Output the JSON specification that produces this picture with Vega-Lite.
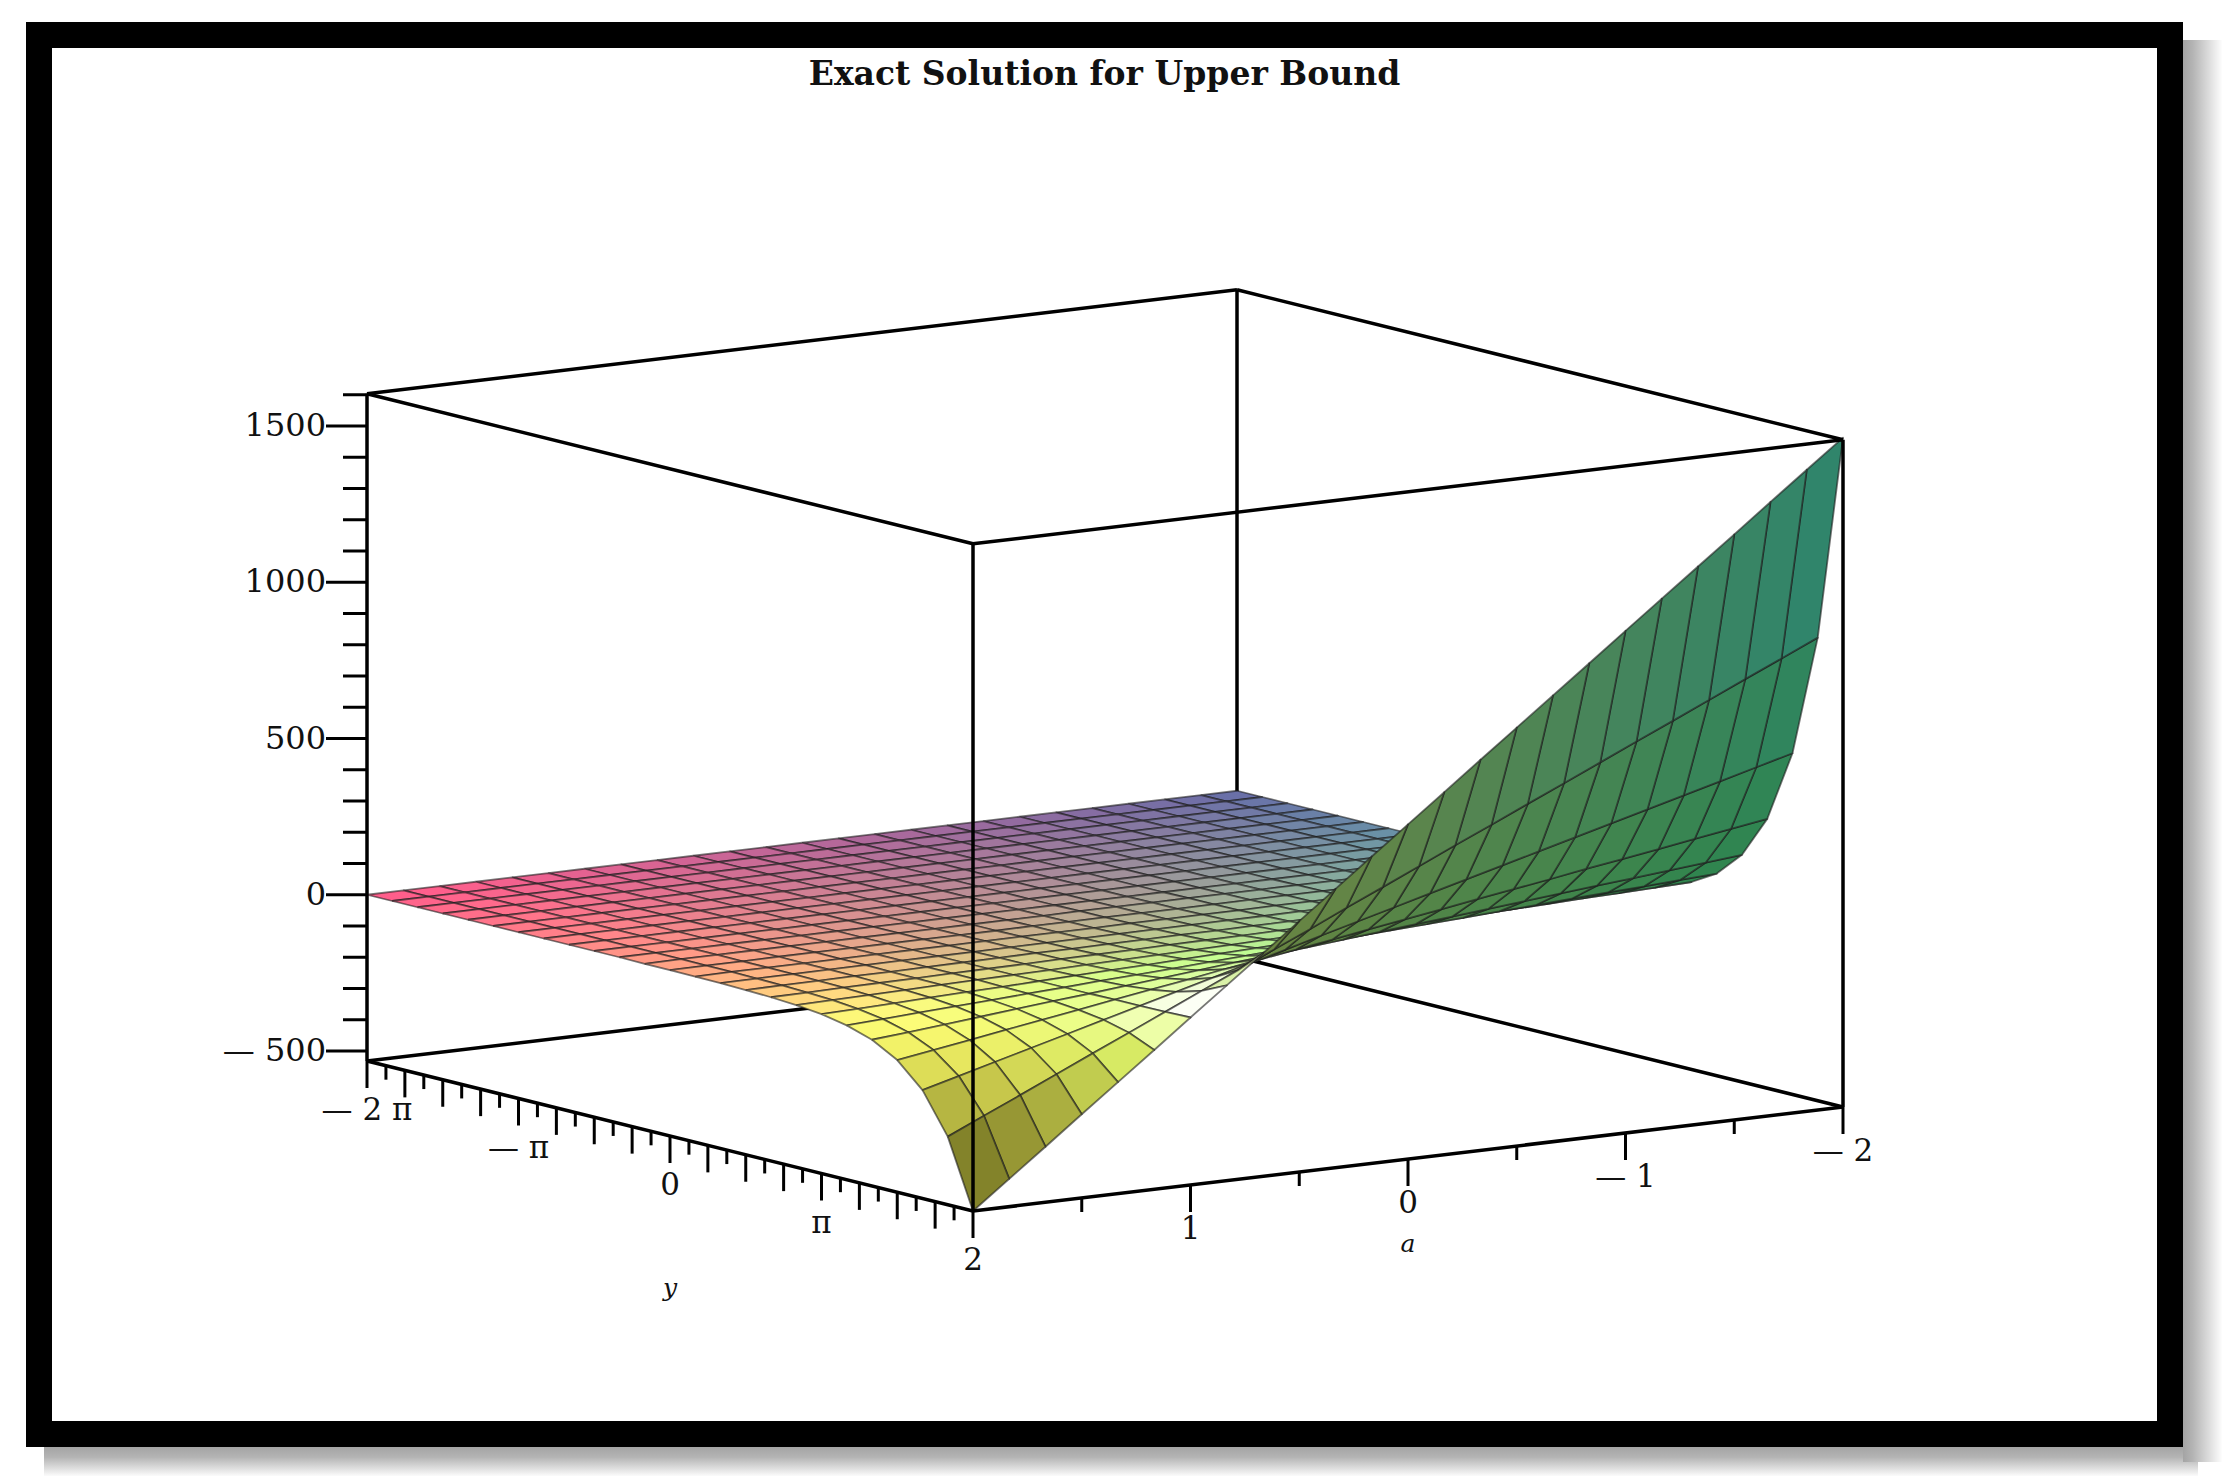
{
"$schema":"https://vega.github.io/schema/vega-lite/v6.json",
"width":2131,"height":1399,
"autosize":{"type":"none"},
"padding":{"left":39,"top":35,"right":56,"bottom":42},
"background":"white",
"view":{"stroke":"#000","strokeWidth":26,"fill":"white"},
"title":{"text":"Exact Solution for Upper Bound","orient":"top","anchor":"middle","offset":-83,"baseline":"alphabetic","font":"DejaVu Serif","fontSize":33,"fontWeight":"bold","color":"#111"},
"datasets":{
"shadow":[{"x1":44,"x2":2198,"y1":1447,"y2":1476,"side":"bottom"},{"x1":2183,"x2":2222,"y1":40,"y2":1462,"side":"right"}],
"box":[
{"y1":-6.2832,"a1":-2,"z1":-532,"y2":-6.2832,"a2":-2,"z2":1603,"behind":1},
{"y1":-6.2832,"a1":2,"z1":-532,"y2":-6.2832,"a2":-2,"z2":-532,"behind":1},
{"y1":-6.2832,"a1":-2,"z1":-532,"y2":6.2832,"a2":-2,"z2":-532,"behind":1},
{"y1":-6.2832,"a1":2,"z1":-532,"y2":-6.2832,"a2":2,"z2":1603,"behind":0},
{"y1":6.2832,"a1":2,"z1":-532,"y2":6.2832,"a2":2,"z2":1603,"behind":0},
{"y1":6.2832,"a1":-2,"z1":-532,"y2":6.2832,"a2":-2,"z2":1603,"behind":0},
{"y1":-6.2832,"a1":2,"z1":-532,"y2":6.2832,"a2":2,"z2":-532,"behind":0},
{"y1":6.2832,"a1":2,"z1":-532,"y2":6.2832,"a2":-2,"z2":-532,"behind":0},
{"y1":-6.2832,"a1":2,"z1":1603,"y2":6.2832,"a2":2,"z2":1603,"behind":0},
{"y1":6.2832,"a1":2,"z1":1603,"y2":6.2832,"a2":-2,"z2":1603,"behind":0},
{"y1":6.2832,"a1":-2,"z1":1603,"y2":-6.2832,"a2":-2,"z2":1603,"behind":0},
{"y1":-6.2832,"a1":-2,"z1":1603,"y2":-6.2832,"a2":2,"z2":1603,"behind":0}
],
"ticks":[
{"axis":"z","y":-6.2832,"a":2,"z":-500,"major":1},{"axis":"z","y":-6.2832,"a":2,"z":-400,"major":0},{"axis":"z","y":-6.2832,"a":2,"z":-300,"major":0},{"axis":"z","y":-6.2832,"a":2,"z":-200,"major":0},{"axis":"z","y":-6.2832,"a":2,"z":-100,"major":0},{"axis":"z","y":-6.2832,"a":2,"z":0,"major":1},{"axis":"z","y":-6.2832,"a":2,"z":100,"major":0},{"axis":"z","y":-6.2832,"a":2,"z":200,"major":0},{"axis":"z","y":-6.2832,"a":2,"z":300,"major":0},{"axis":"z","y":-6.2832,"a":2,"z":400,"major":0},{"axis":"z","y":-6.2832,"a":2,"z":500,"major":1},{"axis":"z","y":-6.2832,"a":2,"z":600,"major":0},{"axis":"z","y":-6.2832,"a":2,"z":700,"major":0},{"axis":"z","y":-6.2832,"a":2,"z":800,"major":0},{"axis":"z","y":-6.2832,"a":2,"z":900,"major":0},{"axis":"z","y":-6.2832,"a":2,"z":1000,"major":1},{"axis":"z","y":-6.2832,"a":2,"z":1100,"major":0},{"axis":"z","y":-6.2832,"a":2,"z":1200,"major":0},{"axis":"z","y":-6.2832,"a":2,"z":1300,"major":0},{"axis":"z","y":-6.2832,"a":2,"z":1400,"major":0},{"axis":"z","y":-6.2832,"a":2,"z":1500,"major":1},{"axis":"z","y":-6.2832,"a":2,"z":1600,"major":0},
{"axis":"y","y":-6.2832,"a":2,"z":-532,"major":1},{"axis":"y","y":-5.4978,"a":2,"z":-532,"major":1},{"axis":"y","y":-4.7124,"a":2,"z":-532,"major":1},{"axis":"y","y":-3.927,"a":2,"z":-532,"major":1},{"axis":"y","y":-3.1416,"a":2,"z":-532,"major":1},{"axis":"y","y":-2.3562,"a":2,"z":-532,"major":1},{"axis":"y","y":-1.5708,"a":2,"z":-532,"major":1},{"axis":"y","y":-0.7854,"a":2,"z":-532,"major":1},{"axis":"y","y":0,"a":2,"z":-532,"major":1},{"axis":"y","y":0.7854,"a":2,"z":-532,"major":1},{"axis":"y","y":1.5708,"a":2,"z":-532,"major":1},{"axis":"y","y":2.3562,"a":2,"z":-532,"major":1},{"axis":"y","y":3.1416,"a":2,"z":-532,"major":1},{"axis":"y","y":3.927,"a":2,"z":-532,"major":1},{"axis":"y","y":4.7124,"a":2,"z":-532,"major":1},{"axis":"y","y":5.4978,"a":2,"z":-532,"major":1},{"axis":"y","y":6.2832,"a":2,"z":-532,"major":1},
{"axis":"y","y":-5.8905,"a":2,"z":-532,"major":0},{"axis":"y","y":-5.1051,"a":2,"z":-532,"major":0},{"axis":"y","y":-4.3197,"a":2,"z":-532,"major":0},{"axis":"y","y":-3.5343,"a":2,"z":-532,"major":0},{"axis":"y","y":-2.7489,"a":2,"z":-532,"major":0},{"axis":"y","y":-1.9635,"a":2,"z":-532,"major":0},{"axis":"y","y":-1.1781,"a":2,"z":-532,"major":0},{"axis":"y","y":-0.3927,"a":2,"z":-532,"major":0},{"axis":"y","y":0.3927,"a":2,"z":-532,"major":0},{"axis":"y","y":1.1781,"a":2,"z":-532,"major":0},{"axis":"y","y":1.9635,"a":2,"z":-532,"major":0},{"axis":"y","y":2.7489,"a":2,"z":-532,"major":0},{"axis":"y","y":3.5343,"a":2,"z":-532,"major":0},{"axis":"y","y":4.3197,"a":2,"z":-532,"major":0},{"axis":"y","y":5.1051,"a":2,"z":-532,"major":0},{"axis":"y","y":5.8905,"a":2,"z":-532,"major":0},
{"axis":"a","y":6.2832,"a":1.5,"z":-532,"major":0},{"axis":"a","y":6.2832,"a":1,"z":-532,"major":1},{"axis":"a","y":6.2832,"a":0.5,"z":-532,"major":0},{"axis":"a","y":6.2832,"a":0,"z":-532,"major":1},{"axis":"a","y":6.2832,"a":-0.5,"z":-532,"major":0},{"axis":"a","y":6.2832,"a":-1,"z":-532,"major":1},{"axis":"a","y":6.2832,"a":-1.5,"z":-532,"major":0},{"axis":"a","y":6.2832,"a":-2,"z":-532,"major":1}
],
"labels":[
{"axis":"z","text":"1500","y":-6.2832,"a":2,"z":1500},{"axis":"z","text":"1000","y":-6.2832,"a":2,"z":1000},{"axis":"z","text":"500","y":-6.2832,"a":2,"z":500},{"axis":"z","text":"0","y":-6.2832,"a":2,"z":0},{"axis":"z","text":"— 500","y":-6.2832,"a":2,"z":-500},
{"axis":"y","text":"— 2 π","y":-6.2832,"a":2,"z":-532},{"axis":"y","text":"— π","y":-3.1416,"a":2,"z":-532},{"axis":"y","text":"0","y":0,"a":2,"z":-532},{"axis":"y","text":"π","y":3.1416,"a":2,"z":-532},{"axis":"y","text":"2","y":6.2832,"a":2,"z":-532},
{"axis":"a","text":"1","y":6.2832,"a":1,"z":-532},{"axis":"a","text":"0","y":6.2832,"a":0,"z":-532},{"axis":"a","text":"— 1","y":6.2832,"a":-1,"z":-532},{"axis":"a","text":"— 2","y":6.2832,"a":-2,"z":-532}
],
"titles":[{"text":"y","y":0,"a":2,"z":-532,"off":152},{"text":"a","y":6.2832,"a":0,"z":-532,"off":85}],
"nodes":[
{"i":0,"j":24,"z":0},{"i":0,"j":23,"z":0},{"i":0,"j":22,"z":0},{"i":0,"j":21,"z":0},{"i":0,"j":20,"z":0},{"i":0,"j":19,"z":0},{"i":0,"j":18,"z":0},{"i":0,"j":17,"z":0},{"i":0,"j":16,"z":0},{"i":0,"j":15,"z":0},{"i":0,"j":14,"z":0},{"i":0,"j":13,"z":0},{"i":0,"j":12,"z":0},{"i":0,"j":11,"z":0},{"i":0,"j":10,"z":0},{"i":0,"j":9,"z":0},{"i":0,"j":8,"z":0},{"i":0,"j":7,"z":0},{"i":0,"j":6,"z":0},{"i":0,"j":5,"z":0},{"i":0,"j":4,"z":0},{"i":0,"j":3,"z":0},{"i":0,"j":2,"z":0},{"i":0,"j":1,"z":0},{"i":0,"j":0,"z":0},
{"i":1,"j":24,"z":0},{"i":1,"j":23,"z":0},{"i":1,"j":22,"z":0},{"i":1,"j":21,"z":0},{"i":1,"j":20,"z":0},{"i":1,"j":19,"z":0},{"i":1,"j":18,"z":0},{"i":1,"j":17,"z":0},{"i":1,"j":16,"z":0},{"i":1,"j":15,"z":0},{"i":1,"j":14,"z":0},{"i":1,"j":13,"z":0},{"i":1,"j":12,"z":0},{"i":1,"j":11,"z":0},{"i":1,"j":10,"z":0},{"i":1,"j":9,"z":0},{"i":1,"j":8,"z":0},{"i":1,"j":7,"z":0},{"i":1,"j":6,"z":0},{"i":1,"j":5,"z":0},{"i":1,"j":4,"z":0},{"i":1,"j":3,"z":0},{"i":1,"j":2,"z":0},{"i":1,"j":1,"z":0},{"i":1,"j":0,"z":0},
{"i":2,"j":24,"z":0},{"i":2,"j":23,"z":0},{"i":2,"j":22,"z":0},{"i":2,"j":21,"z":0},{"i":2,"j":20,"z":0},{"i":2,"j":19,"z":0},{"i":2,"j":18,"z":0},{"i":2,"j":17,"z":0},{"i":2,"j":16,"z":0},{"i":2,"j":15,"z":0},{"i":2,"j":14,"z":0},{"i":2,"j":13,"z":0},{"i":2,"j":12,"z":0},{"i":2,"j":11,"z":0},{"i":2,"j":10,"z":0},{"i":2,"j":9,"z":0},{"i":2,"j":8,"z":0},{"i":2,"j":7,"z":0},{"i":2,"j":6,"z":0},{"i":2,"j":5,"z":0},{"i":2,"j":4,"z":0},{"i":2,"j":3,"z":0},{"i":2,"j":2,"z":0},{"i":2,"j":1,"z":0},{"i":2,"j":0,"z":0},
{"i":3,"j":24,"z":0},{"i":3,"j":23,"z":0},{"i":3,"j":22,"z":0},{"i":3,"j":21,"z":0},{"i":3,"j":20,"z":0},{"i":3,"j":19,"z":0},{"i":3,"j":18,"z":0},{"i":3,"j":17,"z":0},{"i":3,"j":16,"z":0},{"i":3,"j":15,"z":0},{"i":3,"j":14,"z":0},{"i":3,"j":13,"z":0},{"i":3,"j":12,"z":0},{"i":3,"j":11,"z":0},{"i":3,"j":10,"z":0},{"i":3,"j":9,"z":0},{"i":3,"j":8,"z":0},{"i":3,"j":7,"z":0},{"i":3,"j":6,"z":0},{"i":3,"j":5,"z":0},{"i":3,"j":4,"z":0},{"i":3,"j":3,"z":0},{"i":3,"j":2,"z":0},{"i":3,"j":1,"z":0},{"i":3,"j":0,"z":0},
{"i":4,"j":24,"z":0},{"i":4,"j":23,"z":0},{"i":4,"j":22,"z":0},{"i":4,"j":21,"z":0},{"i":4,"j":20,"z":0},{"i":4,"j":19,"z":0},{"i":4,"j":18,"z":0},{"i":4,"j":17,"z":0},{"i":4,"j":16,"z":0},{"i":4,"j":15,"z":0},{"i":4,"j":14,"z":0},{"i":4,"j":13,"z":0},{"i":4,"j":12,"z":0},{"i":4,"j":11,"z":0},{"i":4,"j":10,"z":0},{"i":4,"j":9,"z":0},{"i":4,"j":8,"z":0},{"i":4,"j":7,"z":0},{"i":4,"j":6,"z":0},{"i":4,"j":5,"z":0},{"i":4,"j":4,"z":0},{"i":4,"j":3,"z":0},{"i":4,"j":2,"z":0},{"i":4,"j":1,"z":0},{"i":4,"j":0,"z":0},
{"i":5,"j":24,"z":0},{"i":5,"j":23,"z":0},{"i":5,"j":22,"z":0},{"i":5,"j":21,"z":0},{"i":5,"j":20,"z":0},{"i":5,"j":19,"z":0},{"i":5,"j":18,"z":0},{"i":5,"j":17,"z":0},{"i":5,"j":16,"z":0},{"i":5,"j":15,"z":0},{"i":5,"j":14,"z":0},{"i":5,"j":13,"z":0},{"i":5,"j":12,"z":0},{"i":5,"j":11,"z":0},{"i":5,"j":10,"z":0},{"i":5,"j":9,"z":0},{"i":5,"j":8,"z":0},{"i":5,"j":7,"z":0},{"i":5,"j":6,"z":0},{"i":5,"j":5,"z":0},{"i":5,"j":4,"z":0},{"i":5,"j":3,"z":0},{"i":5,"j":2,"z":0},{"i":5,"j":1,"z":0},{"i":5,"j":0,"z":0},
{"i":6,"j":24,"z":0},{"i":6,"j":23,"z":0},{"i":6,"j":22,"z":0},{"i":6,"j":21,"z":0},{"i":6,"j":20,"z":0},{"i":6,"j":19,"z":0},{"i":6,"j":18,"z":0},{"i":6,"j":17,"z":0},{"i":6,"j":16,"z":0},{"i":6,"j":15,"z":0},{"i":6,"j":14,"z":0},{"i":6,"j":13,"z":0},{"i":6,"j":12,"z":0},{"i":6,"j":11,"z":0},{"i":6,"j":10,"z":0},{"i":6,"j":9,"z":0},{"i":6,"j":8,"z":0},{"i":6,"j":7,"z":0},{"i":6,"j":6,"z":0},{"i":6,"j":5,"z":0},{"i":6,"j":4,"z":0},{"i":6,"j":3,"z":0},{"i":6,"j":2,"z":0},{"i":6,"j":1,"z":0},{"i":6,"j":0,"z":0},
{"i":7,"j":24,"z":0},{"i":7,"j":23,"z":0},{"i":7,"j":22,"z":0},{"i":7,"j":21,"z":0},{"i":7,"j":20,"z":0},{"i":7,"j":19,"z":0},{"i":7,"j":18,"z":0},{"i":7,"j":17,"z":0},{"i":7,"j":16,"z":0},{"i":7,"j":15,"z":0},{"i":7,"j":14,"z":0},{"i":7,"j":13,"z":0},{"i":7,"j":12,"z":0},{"i":7,"j":11,"z":0},{"i":7,"j":10,"z":0},{"i":7,"j":9,"z":0},{"i":7,"j":8,"z":0},{"i":7,"j":7,"z":0},{"i":7,"j":6,"z":0},{"i":7,"j":5,"z":0},{"i":7,"j":4,"z":0},{"i":7,"j":3,"z":0},{"i":7,"j":2,"z":0},{"i":7,"j":1,"z":0},{"i":7,"j":0,"z":0},
{"i":8,"j":24,"z":0},{"i":8,"j":23,"z":0},{"i":8,"j":22,"z":0},{"i":8,"j":21,"z":0},{"i":8,"j":20,"z":0},{"i":8,"j":19,"z":0},{"i":8,"j":18,"z":0},{"i":8,"j":17,"z":0},{"i":8,"j":16,"z":0},{"i":8,"j":15,"z":0},{"i":8,"j":14,"z":0},{"i":8,"j":13,"z":0},{"i":8,"j":12,"z":0},{"i":8,"j":11,"z":0},{"i":8,"j":10,"z":0},{"i":8,"j":9,"z":0},{"i":8,"j":8,"z":0},{"i":8,"j":7,"z":0},{"i":8,"j":6,"z":0},{"i":8,"j":5,"z":0},{"i":8,"j":4,"z":0},{"i":8,"j":3,"z":0},{"i":8,"j":2,"z":0},{"i":8,"j":1,"z":0},{"i":8,"j":0,"z":0},
{"i":9,"j":24,"z":0},{"i":9,"j":23,"z":0},{"i":9,"j":22,"z":0},{"i":9,"j":21,"z":0},{"i":9,"j":20,"z":0},{"i":9,"j":19,"z":0},{"i":9,"j":18,"z":0},{"i":9,"j":17,"z":0},{"i":9,"j":16,"z":0},{"i":9,"j":15,"z":0},{"i":9,"j":14,"z":0},{"i":9,"j":13,"z":0},{"i":9,"j":12,"z":0},{"i":9,"j":11,"z":0},{"i":9,"j":10,"z":0},{"i":9,"j":9,"z":0},{"i":9,"j":8,"z":0},{"i":9,"j":7,"z":0},{"i":9,"j":6,"z":0},{"i":9,"j":5,"z":0},{"i":9,"j":4,"z":0},{"i":9,"j":3,"z":0},{"i":9,"j":2,"z":0},{"i":9,"j":1,"z":0},{"i":9,"j":0,"z":0},
{"i":10,"j":24,"z":0},{"i":10,"j":23,"z":0},{"i":10,"j":22,"z":0},{"i":10,"j":21,"z":0},{"i":10,"j":20,"z":0},{"i":10,"j":19,"z":0},{"i":10,"j":18,"z":0},{"i":10,"j":17,"z":0},{"i":10,"j":16,"z":0},{"i":10,"j":15,"z":0},{"i":10,"j":14,"z":0},{"i":10,"j":13,"z":0},{"i":10,"j":12,"z":0},{"i":10,"j":11,"z":0},{"i":10,"j":10,"z":0},{"i":10,"j":9,"z":0},{"i":10,"j":8,"z":0},{"i":10,"j":7,"z":0},{"i":10,"j":6,"z":0},{"i":10,"j":5,"z":0},{"i":10,"j":4,"z":0},{"i":10,"j":3,"z":0},{"i":10,"j":2,"z":0},{"i":10,"j":1,"z":0},{"i":10,"j":0,"z":0},
{"i":11,"j":24,"z":2},{"i":11,"j":23,"z":2},{"i":11,"j":22,"z":1},{"i":11,"j":21,"z":1},{"i":11,"j":20,"z":1},{"i":11,"j":19,"z":1},{"i":11,"j":18,"z":1},{"i":11,"j":17,"z":1},{"i":11,"j":16,"z":1},{"i":11,"j":15,"z":1},{"i":11,"j":14,"z":1},{"i":11,"j":13,"z":1},{"i":11,"j":12,"z":1},{"i":11,"j":11,"z":0},{"i":11,"j":10,"z":0},{"i":11,"j":9,"z":0},{"i":11,"j":8,"z":0},{"i":11,"j":7,"z":0},{"i":11,"j":6,"z":0},{"i":11,"j":5,"z":0},{"i":11,"j":4,"z":0},{"i":11,"j":3,"z":0},{"i":11,"j":2,"z":0},{"i":11,"j":1,"z":0},{"i":11,"j":0,"z":-1},
{"i":12,"j":24,"z":3},{"i":12,"j":23,"z":3},{"i":12,"j":22,"z":3},{"i":12,"j":21,"z":2},{"i":12,"j":20,"z":2},{"i":12,"j":19,"z":2},{"i":12,"j":18,"z":2},{"i":12,"j":17,"z":2},{"i":12,"j":16,"z":2},{"i":12,"j":15,"z":1},{"i":12,"j":14,"z":1},{"i":12,"j":13,"z":1},{"i":12,"j":12,"z":1},{"i":12,"j":11,"z":1},{"i":12,"j":10,"z":1},{"i":12,"j":9,"z":0},{"i":12,"j":8,"z":0},{"i":12,"j":7,"z":0},{"i":12,"j":6,"z":0},{"i":12,"j":5,"z":0},{"i":12,"j":4,"z":0},{"i":12,"j":3,"z":0},{"i":12,"j":2,"z":-1},{"i":12,"j":1,"z":-1},{"i":12,"j":0,"z":-1},
{"i":13,"j":24,"z":5},{"i":13,"j":23,"z":5},{"i":13,"j":22,"z":4},{"i":13,"j":21,"z":4},{"i":13,"j":20,"z":4},{"i":13,"j":19,"z":3},{"i":13,"j":18,"z":3},{"i":13,"j":17,"z":3},{"i":13,"j":16,"z":3},{"i":13,"j":15,"z":2},{"i":13,"j":14,"z":2},{"i":13,"j":13,"z":2},{"i":13,"j":12,"z":2},{"i":13,"j":11,"z":1},{"i":13,"j":10,"z":1},{"i":13,"j":9,"z":1},{"i":13,"j":8,"z":1},{"i":13,"j":7,"z":0},{"i":13,"j":6,"z":0},{"i":13,"j":5,"z":0},{"i":13,"j":4,"z":-1},{"i":13,"j":3,"z":-1},{"i":13,"j":2,"z":-1},{"i":13,"j":1,"z":-1},{"i":13,"j":0,"z":-2},
{"i":14,"j":24,"z":8},{"i":14,"j":23,"z":8},{"i":14,"j":22,"z":7},{"i":14,"j":21,"z":7},{"i":14,"j":20,"z":6},{"i":14,"j":19,"z":6},{"i":14,"j":18,"z":5},{"i":14,"j":17,"z":5},{"i":14,"j":16,"z":5},{"i":14,"j":15,"z":4},{"i":14,"j":14,"z":4},{"i":14,"j":13,"z":3},{"i":14,"j":12,"z":3},{"i":14,"j":11,"z":2},{"i":14,"j":10,"z":2},{"i":14,"j":9,"z":1},{"i":14,"j":8,"z":1},{"i":14,"j":7,"z":0},{"i":14,"j":6,"z":0},{"i":14,"j":5,"z":0},{"i":14,"j":4,"z":-1},{"i":14,"j":3,"z":-1},{"i":14,"j":2,"z":-2},{"i":14,"j":1,"z":-2},{"i":14,"j":0,"z":-3},
{"i":15,"j":24,"z":14},{"i":15,"j":23,"z":13},{"i":15,"j":22,"z":12},{"i":15,"j":21,"z":12},{"i":15,"j":20,"z":11},{"i":15,"j":19,"z":10},{"i":15,"j":18,"z":9},{"i":15,"j":17,"z":9},{"i":15,"j":16,"z":8},{"i":15,"j":15,"z":7},{"i":15,"j":14,"z":6},{"i":15,"j":13,"z":5},{"i":15,"j":12,"z":5},{"i":15,"j":11,"z":4},{"i":15,"j":10,"z":3},{"i":15,"j":9,"z":2},{"i":15,"j":8,"z":2},{"i":15,"j":7,"z":1},{"i":15,"j":6,"z":0},{"i":15,"j":5,"z":-1},{"i":15,"j":4,"z":-2},{"i":15,"j":3,"z":-2},{"i":15,"j":2,"z":-3},{"i":15,"j":1,"z":-4},{"i":15,"j":0,"z":-5},
{"i":16,"j":24,"z":24},{"i":16,"j":23,"z":22},{"i":16,"j":22,"z":21},{"i":16,"j":21,"z":20},{"i":16,"j":20,"z":18},{"i":16,"j":19,"z":17},{"i":16,"j":18,"z":16},{"i":16,"j":17,"z":14},{"i":16,"j":16,"z":13},{"i":16,"j":15,"z":12},{"i":16,"j":14,"z":11},{"i":16,"j":13,"z":9},{"i":16,"j":12,"z":8},{"i":16,"j":11,"z":7},{"i":16,"j":10,"z":5},{"i":16,"j":9,"z":4},{"i":16,"j":8,"z":3},{"i":16,"j":7,"z":1},{"i":16,"j":6,"z":0},{"i":16,"j":5,"z":-1},{"i":16,"j":4,"z":-3},{"i":16,"j":3,"z":-4},{"i":16,"j":2,"z":-5},{"i":16,"j":1,"z":-7},{"i":16,"j":0,"z":-8},
{"i":17,"j":24,"z":40},{"i":17,"j":23,"z":38},{"i":17,"j":22,"z":36},{"i":17,"j":21,"z":33},{"i":17,"j":20,"z":31},{"i":17,"j":19,"z":29},{"i":17,"j":18,"z":27},{"i":17,"j":17,"z":25},{"i":17,"j":16,"z":22},{"i":17,"j":15,"z":20},{"i":17,"j":14,"z":18},{"i":17,"j":13,"z":16},{"i":17,"j":12,"z":13},{"i":17,"j":11,"z":11},{"i":17,"j":10,"z":9},{"i":17,"j":9,"z":7},{"i":17,"j":8,"z":5},{"i":17,"j":7,"z":2},{"i":17,"j":6,"z":0},{"i":17,"j":5,"z":-2},{"i":17,"j":4,"z":-4},{"i":17,"j":3,"z":-7},{"i":17,"j":2,"z":-9},{"i":17,"j":1,"z":-11},{"i":17,"j":0,"z":-13},
{"i":18,"j":24,"z":68},{"i":18,"j":23,"z":64},{"i":18,"j":22,"z":60},{"i":18,"j":21,"z":57},{"i":18,"j":20,"z":53},{"i":18,"j":19,"z":49},{"i":18,"j":18,"z":45},{"i":18,"j":17,"z":42},{"i":18,"j":16,"z":38},{"i":18,"j":15,"z":34},{"i":18,"j":14,"z":30},{"i":18,"j":13,"z":27},{"i":18,"j":12,"z":23},{"i":18,"j":11,"z":19},{"i":18,"j":10,"z":15},{"i":18,"j":9,"z":11},{"i":18,"j":8,"z":8},{"i":18,"j":7,"z":4},{"i":18,"j":6,"z":0},{"i":18,"j":5,"z":-4},{"i":18,"j":4,"z":-7},{"i":18,"j":3,"z":-11},{"i":18,"j":2,"z":-15},{"i":18,"j":1,"z":-19},{"i":18,"j":0,"z":-22},
{"i":19,"j":24,"z":115},{"i":19,"j":23,"z":109},{"i":19,"j":22,"z":102},{"i":19,"j":21,"z":96},{"i":19,"j":20,"z":90},{"i":19,"j":19,"z":83},{"i":19,"j":18,"z":77},{"i":19,"j":17,"z":70},{"i":19,"j":16,"z":64},{"i":19,"j":15,"z":58},{"i":19,"j":14,"z":51},{"i":19,"j":13,"z":45},{"i":19,"j":12,"z":39},{"i":19,"j":11,"z":32},{"i":19,"j":10,"z":26},{"i":19,"j":9,"z":19},{"i":19,"j":8,"z":13},{"i":19,"j":7,"z":7},{"i":19,"j":6,"z":0},{"i":19,"j":5,"z":-6},{"i":19,"j":4,"z":-13},{"i":19,"j":3,"z":-19},{"i":19,"j":2,"z":-25},{"i":19,"j":1,"z":-32},{"i":19,"j":0,"z":-38},
{"i":20,"j":24,"z":195},{"i":20,"j":23,"z":184},{"i":20,"j":22,"z":173},{"i":20,"j":21,"z":162},{"i":20,"j":20,"z":152},{"i":20,"j":19,"z":141},{"i":20,"j":18,"z":130},{"i":20,"j":17,"z":119},{"i":20,"j":16,"z":108},{"i":20,"j":15,"z":98},{"i":20,"j":14,"z":87},{"i":20,"j":13,"z":76},{"i":20,"j":12,"z":65},{"i":20,"j":11,"z":54},{"i":20,"j":10,"z":44},{"i":20,"j":9,"z":33},{"i":20,"j":8,"z":22},{"i":20,"j":7,"z":11},{"i":20,"j":6,"z":0},{"i":20,"j":5,"z":-10},{"i":20,"j":4,"z":-21},{"i":20,"j":3,"z":-32},{"i":20,"j":2,"z":-43},{"i":20,"j":1,"z":-54},{"i":20,"j":0,"z":-64},
{"i":21,"j":24,"z":330},{"i":21,"j":23,"z":312},{"i":21,"j":22,"z":294},{"i":21,"j":21,"z":275},{"i":21,"j":20,"z":257},{"i":21,"j":19,"z":239},{"i":21,"j":18,"z":220},{"i":21,"j":17,"z":202},{"i":21,"j":16,"z":184},{"i":21,"j":15,"z":165},{"i":21,"j":14,"z":147},{"i":21,"j":13,"z":129},{"i":21,"j":12,"z":110},{"i":21,"j":11,"z":92},{"i":21,"j":10,"z":74},{"i":21,"j":9,"z":56},{"i":21,"j":8,"z":37},{"i":21,"j":7,"z":19},{"i":21,"j":6,"z":1},{"i":21,"j":5,"z":-18},{"i":21,"j":4,"z":-36},{"i":21,"j":3,"z":-54},{"i":21,"j":2,"z":-73},{"i":21,"j":1,"z":-91},{"i":21,"j":0,"z":-109},
{"i":22,"j":24,"z":560},{"i":22,"j":23,"z":529},{"i":22,"j":22,"z":498},{"i":22,"j":21,"z":467},{"i":22,"j":20,"z":436},{"i":22,"j":19,"z":405},{"i":22,"j":18,"z":374},{"i":22,"j":17,"z":343},{"i":22,"j":16,"z":312},{"i":22,"j":15,"z":281},{"i":22,"j":14,"z":250},{"i":22,"j":13,"z":219},{"i":22,"j":12,"z":188},{"i":22,"j":11,"z":157},{"i":22,"j":10,"z":125},{"i":22,"j":9,"z":94},{"i":22,"j":8,"z":63},{"i":22,"j":7,"z":32},{"i":22,"j":6,"z":1},{"i":22,"j":5,"z":-30},{"i":22,"j":4,"z":-61},{"i":22,"j":3,"z":-92},{"i":22,"j":2,"z":-123},{"i":22,"j":1,"z":-154},{"i":22,"j":0,"z":-185},
{"i":23,"j":24,"z":950},{"i":23,"j":23,"z":897},{"i":23,"j":22,"z":845},{"i":23,"j":21,"z":792},{"i":23,"j":20,"z":739},{"i":23,"j":19,"z":687},{"i":23,"j":18,"z":634},{"i":23,"j":17,"z":581},{"i":23,"j":16,"z":529},{"i":23,"j":15,"z":476},{"i":23,"j":14,"z":424},{"i":23,"j":13,"z":371},{"i":23,"j":12,"z":318},{"i":23,"j":11,"z":266},{"i":23,"j":10,"z":212},{"i":23,"j":9,"z":160},{"i":23,"j":8,"z":107},{"i":23,"j":7,"z":55},{"i":23,"j":6,"z":2},{"i":23,"j":5,"z":-51},{"i":23,"j":4,"z":-103},{"i":23,"j":3,"z":-156},{"i":23,"j":2,"z":-209},{"i":23,"j":1,"z":-261},{"i":23,"j":0,"z":-314},
{"i":24,"j":24,"z":1610},{"i":24,"j":23,"z":1521},{"i":24,"j":22,"z":1432},{"i":24,"j":21,"z":1342},{"i":24,"j":20,"z":1253},{"i":24,"j":19,"z":1164},{"i":24,"j":18,"z":1075},{"i":24,"j":17,"z":985},{"i":24,"j":16,"z":896},{"i":24,"j":15,"z":807},{"i":24,"j":14,"z":718},{"i":24,"j":13,"z":628},{"i":24,"j":12,"z":539},{"i":24,"j":11,"z":450},{"i":24,"j":10,"z":360},{"i":24,"j":9,"z":271},{"i":24,"j":8,"z":182},{"i":24,"j":7,"z":93},{"i":24,"j":6,"z":4},{"i":24,"j":5,"z":-86},{"i":24,"j":4,"z":-175},{"i":24,"j":3,"z":-264},{"i":24,"j":2,"z":-354},{"i":24,"j":1,"z":-443},{"i":24,"j":0,"z":-532}
]
},
"encoding":{
"x":{"field":"sx","type":"quantitative","axis":null,"scale":{"domain":[39,2170],"nice":false,"zero":false}},
"y":{"field":"sy","type":"quantitative","axis":null,"scale":{"domain":[1434,35],"nice":false,"zero":false}}
},
"layer":[
{"data":{"name":"shadow"},"transform":[{"filter":"datum.side=='bottom'"},{"calculate":"datum.x1","as":"sx"},{"calculate":"datum.y1","as":"sy"}],
 "mark":{"type":"rect","fill":{"gradient":"linear","x1":0,"y1":0,"x2":0,"y2":1,"stops":[{"offset":0,"color":"#a4a4a4"},{"offset":0.35,"color":"#b4b4b4"},{"offset":1,"color":"#fbfbfb"}]}},
 "encoding":{"x2":{"field":"x2"},"y2":{"field":"y2"}}},
{"data":{"name":"shadow"},"transform":[{"filter":"datum.side=='right'"},{"calculate":"datum.x1","as":"sx"},{"calculate":"datum.y1","as":"sy"}],
 "mark":{"type":"rect","fill":{"gradient":"linear","x1":0,"y1":0,"x2":1,"y2":0,"stops":[{"offset":0,"color":"#a4a4a4"},{"offset":0.25,"color":"#b4b4b4"},{"offset":1,"color":"#fdfdfd"}]}},
 "encoding":{"x2":{"field":"x2"},"y2":{"field":"y2"}}},
{"data":{"name":"box"},"transform":[{"filter":"datum.behind==1"},
 {"calculate":"367+606*(datum.y1+6.2832)/12.5664+870*(2-datum.a1)/4","as":"sx"},
 {"calculate":"1061+150*(datum.y1+6.2832)/12.5664-104*(2-datum.a1)/4-(datum.z1+532)*0.3125","as":"sy"},
 {"calculate":"367+606*(datum.y2+6.2832)/12.5664+870*(2-datum.a2)/4","as":"sx2"},
 {"calculate":"1061+150*(datum.y2+6.2832)/12.5664-104*(2-datum.a2)/4-(datum.z2+532)*0.3125","as":"sy2"}],
 "mark":{"type":"rule","color":"#000","strokeWidth":3.5},
 "encoding":{"x2":{"field":"sx2"},"y2":{"field":"sy2"}}},
{"data":{"name":"nodes"},"transform":[
 {"window":[{"op":"lead","field":"z","as":"zA"}],"groupby":["i"],"sort":[{"field":"j","order":"ascending"}]},
 {"window":[{"op":"lead","field":"z","as":"zY"},{"op":"lead","field":"zA","as":"zYA"}],"groupby":["j"],"sort":[{"field":"i","order":"ascending"}]},
 {"filter":"datum.i<24 && datum.j<24"},
 {"calculate":"datum.i*100+24-datum.j","as":"q"},
 {"calculate":"(datum.zY+datum.zYA-datum.z-datum.zA)/2","as":"S"},
 {"calculate":"(datum.zA+datum.zYA-datum.z-datum.zY)/2","as":"T"},
 {"calculate":"(datum.i+0.5)/24","as":"U0"},
 {"calculate":"(datum.j+0.5)/24","as":"V0"},
 {"calculate":"(datum.z+datum.zA+datum.zY+datum.zYA)/4","as":"zm"},
 {"calculate":"11.3*datum.S-7.9*datum.T-336>0","as":"under"},
 {"calculate":"datum.under?0.52:max(0.48,1/sqrt(1+pow(datum.S/120,2)))","as":"shade"},
 {"calculate":"datum.under?0:exp(-pow((datum.T-60)/40,2)-pow((datum.S-20)/40,2))","as":"w"},
 {"calculate":"min(1,1.05-0.7*datum.V0)","as":"r0"},
 {"calculate":"min(1,0.3+0.08*datum.V0+0.55*datum.U0+0.7*pow(datum.U0,4))","as":"g0"},
 {"calculate":"clamp(0.5-0.1*datum.U0*datum.U0+0.13*datum.V0+0.35*datum.zm/1600,0,1)","as":"b0"},
 {"calculate":"'rgb('+round(255*(datum.r0*datum.shade*(1-datum.w)+datum.w))+','+round(255*(datum.g0*datum.shade*(1-datum.w)+datum.w))+','+round(255*(datum.b0*datum.shade*(1-datum.w)+datum.w))+')'","as":"col"},
 {"calculate":"[0,1,1,0,0]","as":"cu"},
 {"calculate":"[0,0,1,1,0]","as":"cv"},
 {"calculate":"[datum.z,datum.zY,datum.zYA,datum.zA,datum.z]","as":"zc"},
 {"calculate":"[0,1,2,3,4]","as":"ord"},
 {"flatten":["cu","cv","zc","ord"]},
 {"calculate":"367+606*(datum.i+datum.cu)/24+870*(datum.j+datum.cv)/24","as":"sx"},
 {"calculate":"1061+150*(datum.i+datum.cu)/24-104*(datum.j+datum.cv)/24-(datum.zc+532)*0.3125","as":"sy"}],
 "mark":{"type":"line","stroke":"#1c1c1c","strokeOpacity":0.6,"strokeWidth":1.8,"strokeJoin":"round"},
 "encoding":{"detail":{"field":"q","type":"nominal"},"order":{"field":"ord","type":"quantitative"},"fill":{"field":"col","type":"nominal","scale":null}}},
{"data":{"name":"box"},"transform":[{"filter":"datum.behind==0"},
 {"calculate":"367+606*(datum.y1+6.2832)/12.5664+870*(2-datum.a1)/4","as":"sx"},
 {"calculate":"1061+150*(datum.y1+6.2832)/12.5664-104*(2-datum.a1)/4-(datum.z1+532)*0.3125","as":"sy"},
 {"calculate":"367+606*(datum.y2+6.2832)/12.5664+870*(2-datum.a2)/4","as":"sx2"},
 {"calculate":"1061+150*(datum.y2+6.2832)/12.5664-104*(2-datum.a2)/4-(datum.z2+532)*0.3125","as":"sy2"}],
 "mark":{"type":"rule","color":"#000","strokeWidth":3.5},
 "encoding":{"x2":{"field":"sx2"},"y2":{"field":"sy2"}}},
{"data":{"name":"ticks"},"transform":[
 {"calculate":"367+606*(datum.y+6.2832)/12.5664+870*(2-datum.a)/4","as":"sx"},
 {"calculate":"1061+150*(datum.y+6.2832)/12.5664-104*(2-datum.a)/4-(datum.z+532)*0.3125","as":"sy"},
 {"calculate":"datum.axis=='z'?datum.sx-(datum.major?41:24):datum.sx","as":"sx2"},
 {"calculate":"datum.axis=='z'?datum.sy:datum.sy+(datum.major?27:14)","as":"sy2"}],
 "mark":{"type":"rule","color":"#000","strokeWidth":3},
 "encoding":{"x2":{"field":"sx2"},"y2":{"field":"sy2"}}},
{"data":{"name":"labels"},"transform":[{"filter":"datum.axis=='z'"},
 {"calculate":"367+606*(datum.y+6.2832)/12.5664+870*(2-datum.a)/4","as":"sx"},
 {"calculate":"1061+150*(datum.y+6.2832)/12.5664-104*(2-datum.a)/4-(datum.z+532)*0.3125","as":"sy"}],
 "mark":{"type":"text","font":"DejaVu Serif","fontSize":32,"align":"right","baseline":"middle","dx":-41,"color":"#111"},
 "encoding":{"text":{"field":"text"}}},
{"data":{"name":"labels"},"transform":[{"filter":"datum.axis!='z'"},
 {"calculate":"367+606*(datum.y+6.2832)/12.5664+870*(2-datum.a)/4","as":"sx"},
 {"calculate":"1061+150*(datum.y+6.2832)/12.5664-104*(2-datum.a)/4-(datum.z+532)*0.3125+(datum.axis=='y'?50:45)","as":"sy"}],
 "mark":{"type":"text","font":"DejaVu Serif","fontSize":31,"align":"center","baseline":"middle","color":"#111"},
 "encoding":{"text":{"field":"text"}}},
{"data":{"name":"titles"},"transform":[
 {"calculate":"367+606*(datum.y+6.2832)/12.5664+870*(2-datum.a)/4","as":"sx"},
 {"calculate":"1061+150*(datum.y+6.2832)/12.5664-104*(2-datum.a)/4-(datum.z+532)*0.3125+datum.off","as":"sy"}],
 "mark":{"type":"text","font":"DejaVu Serif","fontSize":25,"fontStyle":"italic","align":"center","baseline":"middle","color":"#111"},
 "encoding":{"text":{"field":"text"}}}
]
}
